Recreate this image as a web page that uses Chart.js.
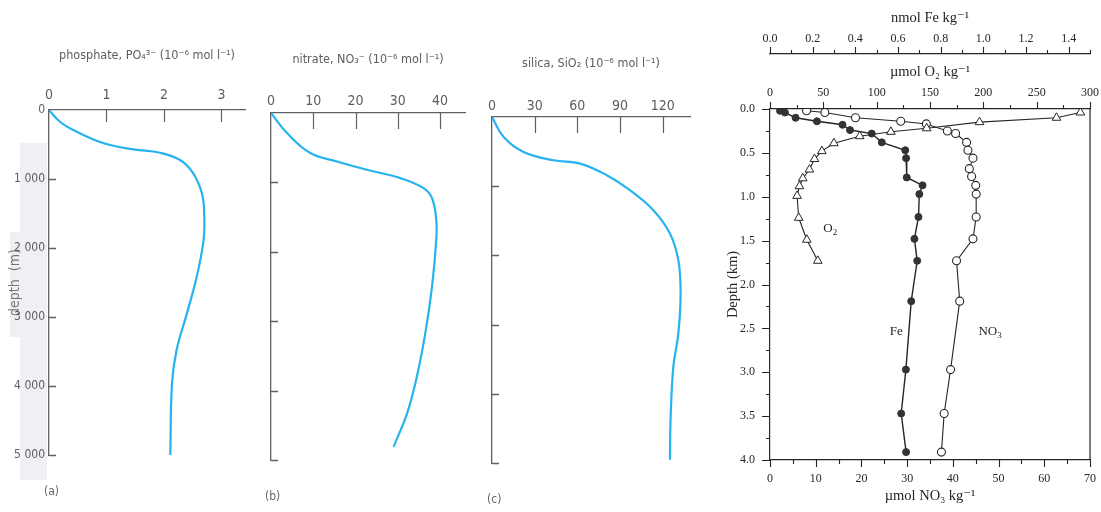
<!DOCTYPE html>
<html><head><meta charset="utf-8">
<script src="https://cdn.jsdelivr.net/npm/chart.js@4.4.1/dist/chart.umd.min.js"></script>
<style>
html,body{margin:0;padding:0;background:#fff;width:1101px;height:512px;overflow:hidden;position:relative}
canvas{position:absolute}
.band{position:absolute;background:#eef0f4}
.plab{position:absolute;font-family:"Liberation Sans Narrow","DejaVu Sans Condensed",sans-serif;color:#666;font-size:12px}
</style></head><body>
<div class="band" style="left:20px;top:143px;width:27px;height:337px"></div>
<div class="band" style="left:10px;top:232px;width:12px;height:105px"></div>
<canvas id="pa" width="255" height="512" style="left:0;top:0"></canvas>
<canvas id="pb" width="225" height="512" style="left:250px;top:0"></canvas>
<canvas id="pc" width="230" height="512" style="left:470px;top:0"></canvas>
<canvas id="pr" width="430" height="512" style="left:700px;top:0"></canvas>
<div class="plab" style="left:44px;top:484px">(a)</div>
<div class="plab" style="left:265px;top:489px">(b)</div>
<div class="plab" style="left:487px;top:492px">(c)</div>
<script>
// ---------- data: panels (a)-(c), depth in m ----------
const phosphateDepth = [0, 170, 290, 483, 570, 619, 725, 917, 1207, 1497, 1884, 2416, 2947, 3478, 3961, 5030];
const phosphateValue = [0, 0.19, 0.42, 0.95, 1.47, 1.93, 2.28, 2.51, 2.66, 2.70, 2.69, 2.57, 2.40, 2.22, 2.14, 2.11];
const nitrateDepth = [0, 289, 577, 698, 818, 938, 1082, 1227, 1540, 1828, 2502, 3175, 3800, 4329, 4810];
const nitrateValue = [0, 3.8, 9.3, 15.6, 22.7, 30.6, 36.1, 38.1, 39.1, 39.1, 38.1, 36.5, 34.5, 32.2, 29.0];
const silicaDepth = [0, 289, 505, 625, 673, 841, 1058, 1346, 1683, 2068, 2549, 3126, 3608, 4329, 4954];
const silicaValue = [0, 8.2, 22.2, 43.2, 62, 80.7, 97, 113.4, 125.1, 131, 132.6, 131, 127.5, 125.6, 125.1];
const depthTicks = [0, 1000, 2000, 3000, 4000, 5000];
const depthTickLabels = ['0', '1 000', '2 000', '3 000', '4 000', '5 000'];
const phosphateTicks = [0, 1, 2, 3];
const nitrateTicks = [0, 10, 20, 30, 40];
const silicaTicks = [0, 30, 60, 90, 120];

// ---------- data: right panel, depth in km ----------
const feDepth = [0.02, 0.04, 0.10, 0.14, 0.18, 0.24, 0.28, 0.38, 0.47, 0.56, 0.78, 0.87, 0.97, 1.23, 1.48, 1.73, 2.19, 2.97, 3.47, 3.91];
const feValue = [0.047, 0.07, 0.12, 0.22, 0.34, 0.375, 0.477, 0.524, 0.634, 0.638, 0.641, 0.715, 0.70, 0.696, 0.677, 0.69, 0.662, 0.637, 0.615, 0.638];
const no3Depth = [0.02, 0.04, 0.10, 0.14, 0.17, 0.25, 0.28, 0.38, 0.47, 0.56, 0.68, 0.77, 0.87, 0.97, 1.23, 1.48, 1.73, 2.19, 2.97, 3.47, 3.91];
const no3Value = [8.0, 12.0, 18.7, 28.6, 34.2, 38.8, 40.6, 43.0, 43.3, 44.4, 43.6, 44.1, 45.0, 45.1, 45.1, 44.4, 40.8, 41.5, 39.5, 38.1, 37.5];
const o2Depth = [0.04, 0.10, 0.15, 0.22, 0.26, 0.31, 0.39, 0.48, 0.57, 0.69, 0.79, 0.88, 0.99, 1.24, 1.49, 1.73];
const o2Value = [291, 268.6, 196.4, 146.9, 113.3, 84.1, 59.9, 48.6, 41.7, 37.0, 30.7, 27.6, 25.4, 26.9, 34.5, 44.8];
const kmTicks = [0, 0.5, 1, 1.5, 2, 2.5, 3, 3.5, 4];
const feTicks = [0, 0.2, 0.4, 0.6, 0.8, 1.0, 1.2, 1.4];
const o2Ticks = [0, 50, 100, 150, 200, 250, 300];
const no3Ticks = [0, 10, 20, 30, 40, 50, 60, 70];

const pts = (xs, ys) => xs.map((x, i) => ({x: x, y: ys[i]}));
const range = (a, b, s) => { const r = []; for (let v = a; v <= b + 1e-9; v += s) r.push(+v.toFixed(4)); return r; };

const tickMarks = {
  id: 'tickMarks',
  afterDraw(chart, args, opts) {
    const ctx = chart.ctx;
    (opts.marks || []).forEach(m => {
      const s = chart.scales[m.axis]; if (!s) return;
      ctx.save(); ctx.strokeStyle = m.color; ctx.lineWidth = m.width || 1;
      ctx.beginPath();
      m.values.forEach(v => {
        const p = Math.round(s.getPixelForValue(v)) + 0.5;
        if (s.isHorizontal()) {
          const base = s.position === 'top' ? s.bottom : s.top;
          const sign = (s.position === 'top' ? 1 : -1) * m.dir;
          ctx.moveTo(p, base); ctx.lineTo(p, base + sign * m.len);
        } else {
          const base = s.position === 'left' ? s.right : s.left;
          const sign = (s.position === 'left' ? 1 : -1) * m.dir;
          ctx.moveTo(base, p); ctx.lineTo(base + sign * m.len, p);
        }
      });
      ctx.stroke(); ctx.restore();
    });
  }
};
const frame = {
  id: 'frame',
  afterDraw(chart, args, opts) {
    if (!opts.right) return;
    const a = chart.chartArea, ctx = chart.ctx;
    ctx.save(); ctx.strokeStyle = opts.color; ctx.lineWidth = opts.width;
    ctx.beginPath(); ctx.moveTo(a.right, a.top); ctx.lineTo(a.right, a.bottom); ctx.stroke(); ctx.restore();
  }
};
const textLabels = {
  id: 'textLabels',
  afterDatasetsDraw(chart, args, opts) {
    const ctx = chart.ctx;
    (opts.items || []).forEach(it => {
      const x = chart.scales[it.xAxis].getPixelForValue(it.x);
      const y = chart.scales[it.yAxis].getPixelForValue(it.y);
      ctx.save(); ctx.fillStyle = opts.color; ctx.font = opts.font;
      ctx.textBaseline = 'middle'; ctx.textAlign = 'left';
      ctx.fillText(it.text, x, y);
      if (it.sub) {
        const w = ctx.measureText(it.text).width;
        ctx.font = opts.subFont; ctx.fillText(it.sub, x + w, y + 4);
      }
      ctx.restore();
    });
  }
};
Chart.register(tickMarks, frame, textLabels);

const NARROW = '"Liberation Sans Narrow","DejaVu Sans Condensed","Liberation Sans",sans-serif';
const SERIF = '"Liberation Serif","DejaVu Serif",serif';
const LG = '#5d5d5d', AX = '#606060', BLUE = '#26b3ee';

function profile(id, o) {
  return new Chart(document.getElementById(id), {
    type: 'scatter',
    data: {datasets: [{data: pts(o.xv, o.yv), showLine: true, borderColor: BLUE, borderWidth: 2.2,
      pointRadius: 0, tension: 0.4, fill: false}]},
    options: {
      responsive: false, animation: false, devicePixelRatio: 1,
      layout: {padding: {left: 0, top: 0, right: o.padR, bottom: o.padB}},
      plugins: {legend: {display: false}, tooltip: {enabled: false},
        tickMarks: {marks: [
          {axis: 'x', values: o.xTicks.filter(v => v !== 0), len: o.xTickLen, dir: 1, color: AX, width: 1.2},
          {axis: 'y', values: depthTicks.filter(v => v !== 0), len: 7, dir: 1, color: AX, width: 1.6}]}},
      scales: {
        x: {type: 'linear', position: 'top', min: 0, max: o.xMax,
          afterBuildTicks: s => { s.ticks = o.xTicks.map(v => ({value: v})); },
          afterFit: s => { s.height = o.top; },
          grid: {display: false, drawTicks: false},
          border: {display: true, color: AX, width: 1.3},
          ticks: {color: LG, font: {family: NARROW, size: 14}, padding: o.xLabPad, maxRotation: 0},
          title: {display: true, text: o.title, color: LG, font: {family: NARROW, size: 12.5}, padding: {top: o.titlePad, bottom: 0}}},
        y: {type: 'linear', position: 'left', reverse: true, min: 0, max: 5000,
          afterBuildTicks: s => { s.ticks = depthTicks.map(v => ({value: v})); },
          afterFit: s => { s.width = o.left; },
          grid: {display: false, drawTicks: false},
          border: {display: true, color: AX, width: 1.3},
          ticks: {display: o.yLabels, color: LG, font: {family: NARROW, size: 12}, padding: 4,
            callback: (v, i) => depthTickLabels[i]},
          title: {display: o.yLabels, text: 'depth  (m)', color: '#777', font: {family: NARROW, size: 14}, padding: {top: 7, bottom: 0}}}
      }
    }
  });
}

profile('pa', {xv: phosphateValue, yv: phosphateDepth, xMax: 3.41, xTicks: phosphateTicks, title: 'phosphate, PO\u2084\u00B3\u207B (10\u207B\u2076 mol l\u207B\u00B9)',
  top: 110, left: 49, padR: 10, padB: 57, xTickLen: 12, xLabPad: 6, titlePad: 48, yLabels: true});
profile('pb', {xv: nitrateValue, yv: nitrateDepth, xMax: 45.9, xTicks: nitrateTicks, title: 'nitrate, NO\u2083\u207B (10\u207B\u2076 mol l\u207B\u00B9)',
  top: 113, left: 21, padR: 10, padB: 52, xTickLen: 16, xLabPad: 3, titlePad: 52, yLabels: false});
profile('pc', {xv: silicaValue, yv: silicaDepth, xMax: 139.2, xTicks: silicaTicks, title: 'silica, SiO\u2082 (10\u207B\u2076 mol l\u207B\u00B9)',
  top: 117, left: 22, padR: 10, padB: 49, xTickLen: 16, xLabPad: 2, titlePad: 56, yLabels: false});

// ---------- right panel ----------
const K = '#262626';
const tickFont = {family: SERIF, size: 12};
const titleFont = {family: SERIF, size: 14.5};
new Chart(document.getElementById('pr'), {
  type: 'scatter',
  data: {datasets: [
    {label: 'O2', data: pts(o2Value, o2Depth), xAxisID: 'xO2', yAxisID: 'y', showLine: true, borderColor: K, borderWidth: 1.1,
      pointStyle: 'triangle', pointRadius: 5, pointBackgroundColor: '#fff', pointBorderColor: K, pointBorderWidth: 1},
    {label: 'NO3', data: pts(no3Value, no3Depth), xAxisID: 'x', yAxisID: 'y', showLine: true, borderColor: K, borderWidth: 1.1,
      pointStyle: 'circle', pointRadius: 4, pointBackgroundColor: '#fff', pointBorderColor: K, pointBorderWidth: 1.1},
    {label: 'Fe', data: pts(feValue, feDepth), xAxisID: 'xFe', yAxisID: 'y', showLine: true, borderColor: K, borderWidth: 1.4,
      pointStyle: 'circle', pointRadius: 3.5, pointBackgroundColor: '#333', pointBorderColor: '#333', pointBorderWidth: 1}
  ]},
  options: {
    responsive: false, animation: false, devicePixelRatio: 1,
    layout: {padding: {left: 0, top: 0, right: 40, bottom: 0}},
    plugins: {legend: {display: false}, tooltip: {enabled: false},
      frame: {right: true, color: K, width: 1.2},
      textLabels: {color: K, font: '13px "Liberation Serif", serif', subFont: '9px "Liberation Serif", serif', items: [
        {xAxis: 'xO2', yAxis: 'y', x: 50, y: 1.36, text: 'O', sub: '2'},
        {xAxis: 'x', yAxis: 'y', x: 26.2, y: 2.54, text: 'Fe'},
        {xAxis: 'x', yAxis: 'y', x: 45.6, y: 2.54, text: 'NO', sub: '3'}]},
      tickMarks: {marks: [
        {axis: 'y', values: kmTicks, len: 8, dir: -1, color: K, width: 1.1},
        {axis: 'y', values: range(0.25, 3.75, 0.5), len: 4, dir: -1, color: K, width: 1.1},
        {axis: 'x', values: no3Ticks, len: 7, dir: -1, color: K, width: 1.1},
        {axis: 'x', values: range(5, 65, 10), len: 4, dir: -1, color: K, width: 1.1},
        {axis: 'xO2', values: o2Ticks, len: 7, dir: -1, color: K, width: 1.1},
        {axis: 'xO2', values: range(25, 275, 50), len: 4, dir: -1, color: K, width: 1.1},
        {axis: 'xFe', values: feTicks, len: 7, dir: -1, color: K, width: 1.1},
        {axis: 'xFe', values: range(0.1, 1.5, 0.2), len: 4, dir: -1, color: K, width: 1.1}]}},
    scales: {
      y: {type: 'linear', position: 'left', reverse: true, min: 0, max: 4,
        afterBuildTicks: s => { s.ticks = kmTicks.map(v => ({value: v})); },
        afterFit: s => { s.width = 70; },
        grid: {display: false, drawTicks: false}, border: {display: true, color: K, width: 1.2},
        ticks: {color: K, font: tickFont, padding: 15, callback: v => Number(v).toFixed(1)},
        title: {display: true, text: 'Depth (km)', color: K, font: titleFont, padding: {top: 24, bottom: 0}}},
      x: {type: 'linear', position: 'bottom', min: 0, max: 70,
        afterBuildTicks: s => { s.ticks = no3Ticks.map(v => ({value: v})); },
        afterFit: s => { s.height = 52; },
        grid: {display: false, drawTicks: false}, border: {display: true, color: K, width: 1.2},
        ticks: {color: K, font: tickFont, padding: 12, maxRotation: 0},
        title: {display: true, text: '\u00B5mol NO\u2083 kg\u207B\u00B9', color: K, font: titleFont, padding: {top: 0, bottom: 7}}},
      xO2: {type: 'linear', position: 'top', weight: 0, min: 0, max: 300,
        afterBuildTicks: s => { s.ticks = o2Ticks.map(v => ({value: v})); },
        afterFit: s => { s.height = 55; },
        grid: {display: false, drawTicks: false}, border: {display: true, color: K, width: 1.2},
        ticks: {color: K, font: tickFont, padding: 9, maxRotation: 0},
        title: {display: true, text: '\u00B5mol O\u2082 kg\u207B\u00B9', color: K, font: titleFont, padding: {top: 9, bottom: 0}}},
      xFe: {type: 'linear', position: 'top', weight: 1, min: 0, max: 1.5,
        afterBuildTicks: s => { s.ticks = feTicks.map(v => ({value: v})); },
        afterFit: s => { s.height = 54; },
        grid: {display: false, drawTicks: false}, border: {display: true, color: K, width: 1.2},
        ticks: {color: K, font: tickFont, padding: 8, maxRotation: 0, callback: v => Number(v).toFixed(1)},
        title: {display: true, text: 'nmol Fe kg\u207B\u00B9', color: K, font: titleFont, padding: {top: 9, bottom: 0}}}
    }
  }
});
</script>
</body></html>
